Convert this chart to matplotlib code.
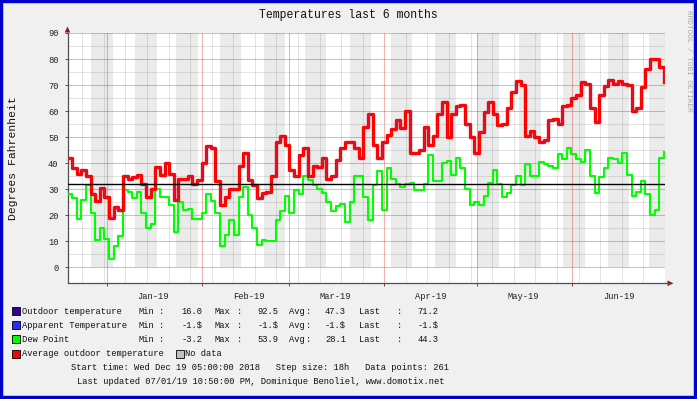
import matplotlib
matplotlib.use('Agg')
import matplotlib.pyplot as plt
from matplotlib.patches import Rectangle, Polygon
from matplotlib.lines import Line2D
import numpy as np
import pandas as pd

plt.rcParams['font.family'] = ['Liberation Mono', 'DejaVu Sans Mono']

# ---------------------------------------------------------------- data
start = pd.Timestamp('2018-12-19 05:00')
step_days = 1.5   # one reading per 36h (every 2nd rrd step)

# average outdoor temperature (red)
outdoor_avg = [42, 38, 36, 37.5, 35, 28, 25.5, 30.5, 27, 19,
               23, 22, 35, 34, 34.5, 35.5, 32, 27, 30, 38.5,
               35.5, 40, 36, 26, 34, 34, 35, 32, 33.5, 40,
               46.5, 45.8, 33, 24, 27, 30, 30, 39, 44, 33.5,
               31.5, 26.5, 28.5, 29, 35, 48, 50.5, 47, 37.5, 35,
               43, 46, 35, 39, 38.5, 42, 34, 35, 41.3, 46,
               48.3, 48, 46, 42, 54, 59, 47, 42, 48, 51,
               53, 56.7, 53.5, 60, 44, 44, 45, 54, 47, 50.5,
               59, 63.5, 50, 59, 62, 62.5, 55, 50, 44, 52,
               59.5, 63.5, 59, 54.5, 55, 61, 67.5, 71.5, 70, 50.5,
               52.5, 50, 48, 49, 56.5, 57, 55, 62, 62.5, 65,
               66, 71, 70.5, 61, 56, 66, 69.8, 72, 70.5, 71.7,
               70.5, 70, 60, 61, 69.2, 76, 80, 80, 77, 71.2]

# dew point (green)
dew_point = [28, 26.5, 18.5, 26, 31.5, 21, 10.5, 15, 11, 3,
             8, 12, 29.5, 29, 26.5, 29, 21, 15, 16.5, 30,
             27, 27, 24, 13.5, 25, 22, 22.5, 18.5, 18.5, 21,
             28, 25.5, 21, 8, 12.5, 18, 12.5, 27, 31, 20,
             15, 8.5, 10.5, 10, 10, 18, 21.5, 27.5, 21, 29.5,
             28, 35, 33.5, 31.5, 30, 28.5, 25, 21.5, 23.5, 24.5,
             17.5, 25, 35, 35, 27, 18, 31.5, 37, 22, 38,
             34, 32, 31, 32, 32.5, 29.5, 29.5, 32, 43, 33,
             33, 40, 41, 35.5, 42, 38.3, 30, 24, 25, 24,
             27.5, 32.5, 37.5, 32, 27, 28.5, 31.5, 35, 31.7, 39.5,
             35, 35, 40.5, 39.5, 39, 38, 43.5, 41.5, 46, 43.5,
             41.5, 40.5, 45, 35, 28.5, 34.5, 38, 42, 41.5, 40,
             44, 35.5, 27.5, 29, 33, 28, 20, 22, 42, 44.3]

freeze_line = 32

month_labels = ['Jan-19', 'Feb-19', 'Mar-19', 'Apr-19', 'May-19', 'Jun-19']
month_starts = ['2019-01-01', '2019-02-01', '2019-03-01', '2019-04-01',
                '2019-05-01', '2019-06-01', '2019-07-01']
# shaded weeks, start offsets in days
band_starts = [7.6, 21.9, 35.2, 49.4, 63.7, 77.0, 91.5, 104.8, 119.1,
               133.0, 146.6, 160.9, 175.2, 188.5]

legend_names = ['Outdoor temperature', 'Apparent Temperature', 'Dew Point']
legend_colors = ['#330099', '#2a2aff', '#00ff00']
stat_min = ['16.0', '-1.$', '-3.2']
stat_max = ['92.5', '-1.$', '53.9']
stat_avg = ['47.3', '-1.$', '28.1']
stat_last = ['71.2', '-1.$', '44.3']

# ---------------------------------------------------------------- figure
W, H = 697, 399
fig = plt.figure(figsize=(W / 100, H / 100), dpi=100, facecolor='#f0f0f0')


def fx(px):
    return px / W


def fy(py):
    return 1 - py / H


x0, x1, ytop, ybot = 67.5, 665, 33, 283.3
ax = fig.add_axes([fx(x0), fy(ybot), (x1 - x0) / W, (ybot - ytop) / H])
ax.set_facecolor('white')

day = pd.Timedelta('1D')
xmax = (pd.Timestamp('2019-07-01') - start) / day + 0.06
ylo, yhi = -6.15, 90
ax.set_xlim(0, xmax)
ax.set_ylim(ylo, yhi)

# gray week bands from 0 to top
bmin = (0 - ylo) / (yhi - ylo)
for s in band_starts:
    ax.axvspan(s, min(s + 7, xmax), ymin=bmin, ymax=1, color='#ebebeb',
               lw=0, zorder=0)

# grid
minor_c = (0.35, 0.35, 0.35, 0.16)
major_c = (0.85, 0.0, 0.0, 0.3)
for v in range(5, 90, 10):
    ax.axhline(v, color=minor_c, lw=0.75, zorder=1)
for v in range(0, 91, 10):
    ax.axhline(v, color=major_c, lw=0.75, zorder=1)
mdays = [(pd.Timestamp(m) - start) / day for m in month_starts]
first_monday = (pd.Timestamp('2018-12-24') - start) / day
for w in np.arange(first_monday, xmax, 7):
    if min(abs(w - m) for m in mdays) > 0.3:
        ax.axvline(w, color=minor_c, lw=0.75, zorder=1)
for m in mdays:
    ax.axvline(m, color=major_c, lw=0.75, zorder=1)

# data
t = np.arange(len(outdoor_avg)) * step_days
td = np.arange(len(dew_point)) * step_days
ax.step(td, dew_point, where='post', color='#00ff00', lw=1.5, zorder=3)
ax.step(t, outdoor_avg, where='post', color='#ff0000', lw=2.4, zorder=4)
ax.step(t, outdoor_avg, where='post', color='#d81530', lw=0.55, zorder=4)
ax.axhline(freeze_line, color='black', lw=1.0, zorder=5)

# axes / ticks
for side in ['top', 'right']:
    ax.spines[side].set_visible(False)
for side in ['left', 'bottom']:
    ax.spines[side].set_color('#505050')
    ax.spines[side].set_linewidth(0.9)
ax.set_yticks(range(0, 91, 10))
ax.set_yticklabels([str(v) for v in range(0, 91, 10)])
ax.tick_params(axis='y', length=2, width=0.7, color='#505050', pad=4.5,
               labelsize=6.3, labelcolor='#222222')
mids = [(pd.Timestamp(m) + pd.Timedelta('15D') - start) / day
        for m in month_starts[:-1]]
ax.set_xticks(mids)
ax.set_xticklabels(month_labels)
ax.set_xticks(mdays[:-1], minor=True)
ax.tick_params(axis='x', which='major', length=0, pad=6, labelsize=6.3,
               labelcolor='#222222')
ax.tick_params(axis='x', which='minor', length=2, width=0.7, color='#505050')

# axis extensions and arrows
fig.add_artist(Line2D([fx(x1), fx(670)], [fy(ybot), fy(ybot)],
                      color='#505050', lw=0.9))
fig.add_artist(Polygon([[fx(673.5), fy(ybot)], [fx(667.5), fy(ybot - 2.8)],
                        [fx(667.5), fy(ybot + 2.8)]], closed=True,
                       color='#8b1a1a', lw=0))
fig.add_artist(Polygon([[fx(x0), fy(26.5)], [fx(x0 - 2.8), fy(32.5)],
                        [fx(x0 + 2.8), fy(32.5)]], closed=True,
                       color='#8b1a1a', lw=0))

# texts
fig.text(fx(348.5), fy(15.3), 'Temperatures last 6 months', ha='center',
         va='center', fontsize=8.3, color='#111111')
fig.text(fx(13.5), fy(158.5), 'Degrees Fahrenheit', rotation=90,
         ha='center', va='center', fontsize=8.2, color='#111111')
fig.text(fx(688.5), fy(61), 'RRDTOOL / TOBI OETIKER', rotation=270,
         ha='center', va='center', fontsize=5.6, color='#aaaaaa')

rows = [311, 325.3, 339.3, 353.7]
cols = [138.3, 159.3, 181.7, 214.3, 236.7, 257.3, 289.3, 305.7, 325,
        359.3, 396.7, 417.3]
fs = 6.3
tc = '#111111'


def square(px, py, col):
    fig.add_artist(Rectangle((fx(px), fy(py + 4)), 8 / W, 8 / H,
                             facecolor=col, edgecolor='black', lw=0.6))


for i, name in enumerate(legend_names):
    y = rows[i]
    square(12, y, legend_colors[i])
    fig.text(fx(22.5), fy(y), name, va='center', fontsize=fs, color=tc)
    toks = ['Min', ':', stat_min[i], 'Max', ':', stat_max[i],
            'Avg', ':', stat_avg[i], 'Last', ':', stat_last[i]]
    for cx, tok in zip(cols, toks):
        fig.text(fx(cx), fy(y), tok, va='center', fontsize=fs, color=tc)

square(12, rows[3], '#ff0000')
fig.text(fx(22.5), fy(rows[3]), 'Average outdoor temperature', va='center',
         fontsize=fs, color=tc)
square(176, rows[3], '#c0c0c0')
fig.text(fx(185.5), fy(rows[3]), 'No data', va='center', fontsize=fs,
         color=tc)

fig.text(fx(260), fy(367.7),
         'Start time: Wed Dec 19 05:00:00 2018   Step size: 18h   Data points: 261',
         ha='center', va='center', fontsize=fs, color=tc)
fig.text(fx(261), fy(381.7),
         'Last updated 07/01/19 10:50:00 PM, Dominique Benoliel, www.domotix.net',
         ha='center', va='center', fontsize=fs, color=tc)

# blue frame
fig.add_artist(Rectangle((0, 0), 1, 1, transform=fig.transFigure,
                         fill=False, edgecolor='#0000cc', lw=4.6))

fig.savefig('out.png', dpi=100, facecolor=fig.get_facecolor())
